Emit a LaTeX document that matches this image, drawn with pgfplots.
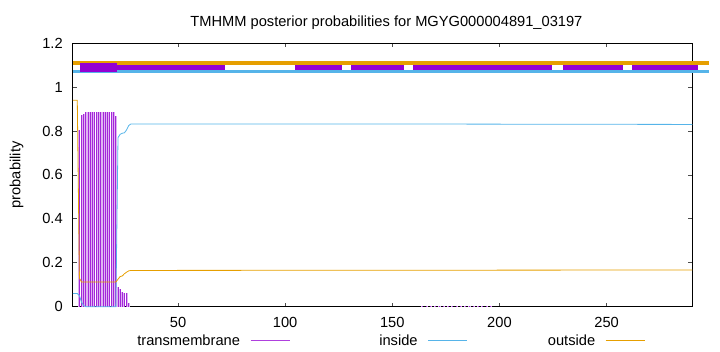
\documentclass[border=0pt]{standalone}
\usepackage{pgfplots}
\usepackage{pgfplotstable}
\pgfplotsset{compat=1.18}
\usepackage{fontspec}
\setmainfont{Liberation Sans}
\definecolor{tmc}{HTML}{9400D3}
\definecolor{inc}{HTML}{56B4E9}
\definecolor{outc}{HTML}{E69F00}
\pgfplotstableread{
x y
4 0.805
5 0.873
6 0.876
7 0.885
8 0.885
9 0.885
10 0.885
11 0.885
12 0.885
13 0.885
14 0.885
15 0.885
16 0.885
17 0.885
18 0.885
19 0.885
20 0.885
21 0.870
22 0.090
23 0.079
24 0.066
25 0.063
26 0.060
27 0.015
164 0.004
166 0.004
168 0.004
170 0.004
172 0.004
174 0.004
176 0.004
178 0.004
180 0.004
182 0.004
184 0.004
186 0.004
188 0.004
190 0.004
192 0.004
194 0.004
196 0.004
}\tmtable
\pgfplotstableread{
x y
1 0.060
2 0.060
3 0.060
4 0.050
5 0.020
6 0.005
7 0.000
21 0.000
22 0.770
23 0.785
24 0.790
25 0.792
26 0.805
27 0.825
28 0.832
150 0.832
290 0.830
}\intable
\pgfplotstableread{
x y
1 0.940
2 0.940
3 0.940
4 0.130
5 0.112
21 0.112
22 0.125
23 0.137
24 0.140
25 0.150
26 0.157
27 0.163
28 0.165
290 0.167
}\outtable
\begin{document}
\begin{tikzpicture}
\begin{axis}[
  scale only axis, width=464.5pt, height=197.6pt,
  xmin=1, xmax=290, ymin=0, ymax=1.2,
  clip=false,
  axis line style={black, line width=0.75pt},
  xtick={50,100,150,200,250},
  ytick={0,0.2,0.4,0.6,0.8,1,1.2},
  xtick pos=both, ytick pos=both,
  xticklabel pos=lower, yticklabel pos=left,
  tick align=inside, major tick length=3pt,
  tick style={black!70, line width=0.6pt},
  /pgf/number format/assume math mode=true,
  every tick label/.append style={font=\fontsize{11}{13}\selectfont},
  xticklabel style={anchor=center, inner sep=0pt, yshift=-11.5pt},
  yticklabel style={anchor=east, inner sep=0pt, xshift=-7.5pt},
  title={TMHMM posterior probabilities for MGYG000004891\_03197},
  title style={at={(axis description cs:0.5,1)}, anchor=center, inner sep=0pt,
    yshift=9.1pt, xshift=2.8pt, font=\fontsize{11}{13}\selectfont},
  ylabel={probability},
  ylabel style={at={(axis description cs:-0.0909,0.5)}, anchor=center, inner sep=0pt,
    font=\fontsize{11}{13}\selectfont},
  legend image code/.code={\draw[#1] (0pt,0pt) -- (29.25pt,0pt);},
  legend columns=3, legend plot pos=right,
  legend style={draw=none, fill=none, inner sep=0pt, outer sep=0pt, column sep=0pt,
    at={(axis description cs:0,0)}, anchor=west, xshift=40.25pt, yshift=-25.7pt,
    font=\fontsize{11}{13}\selectfont, nodes={inner sep=0pt},
    /tikz/every odd column/.style={column sep=7.5pt},
    /tikz/every even column/.style={column sep=10.65pt}},
]
% top region bars
\addplot[outc, line width=3pt, forget plot] coordinates {(1,1.11) (297.8,1.11)};
\addplot[inc, line width=2.25pt, forget plot] coordinates {(1,1.07) (297.8,1.07)};
\addplot[tmc, line width=7pt, forget plot] coordinates {(4.2,1.09) (21.4,1.09)};
\addplot[tmc, line width=3.5pt, forget plot] coordinates {(21.4,1.09) (71.8,1.09)};
\addplot[tmc, line width=3.5pt, forget plot] coordinates {(104.8,1.09) (126.7,1.09)};
\addplot[tmc, line width=3.5pt, forget plot] coordinates {(130.9,1.09) (155.6,1.09)};
\addplot[tmc, line width=3.5pt, forget plot] coordinates {(159.8,1.09) (224.6,1.09)};
\addplot[tmc, line width=3.5pt, forget plot] coordinates {(229.7,1.09) (257.7,1.09)};
\addplot[tmc, line width=3.5pt, forget plot] coordinates {(261.9,1.09) (292.6,1.09)};
% transmembrane impulses (light body + dark lines)
\addplot[tmc!30, ycomb, line width=1.6pt, forget plot] table {\tmtable};
\addplot[tmc!85, ycomb, line width=0.7pt, forget plot] table {\tmtable};
% inside
\addplot[inc, line width=0.6pt, forget plot] table {\intable};
% outside
\addplot[outc, line width=0.6pt, forget plot] table {\outtable};
\addlegendimage{color=tmc!75, line width=0.8pt}
\addlegendentry{\makebox[85pt][r]{transmembrane}}
\addlegendimage{color=inc, line width=0.8pt}
\addlegendentry{\makebox[85pt][r]{inside}}
\addlegendimage{color=outc, line width=0.8pt}
\addlegendentry{\makebox[85pt][r]{outside}}
\end{axis}
\pgfresetboundingbox
\path ([shift={(-54.75pt,-34pt)}]current axis.south west) rectangle ([shift={(20.75pt,32.4pt)}]current axis.north east);
\end{tikzpicture}
\end{document}
